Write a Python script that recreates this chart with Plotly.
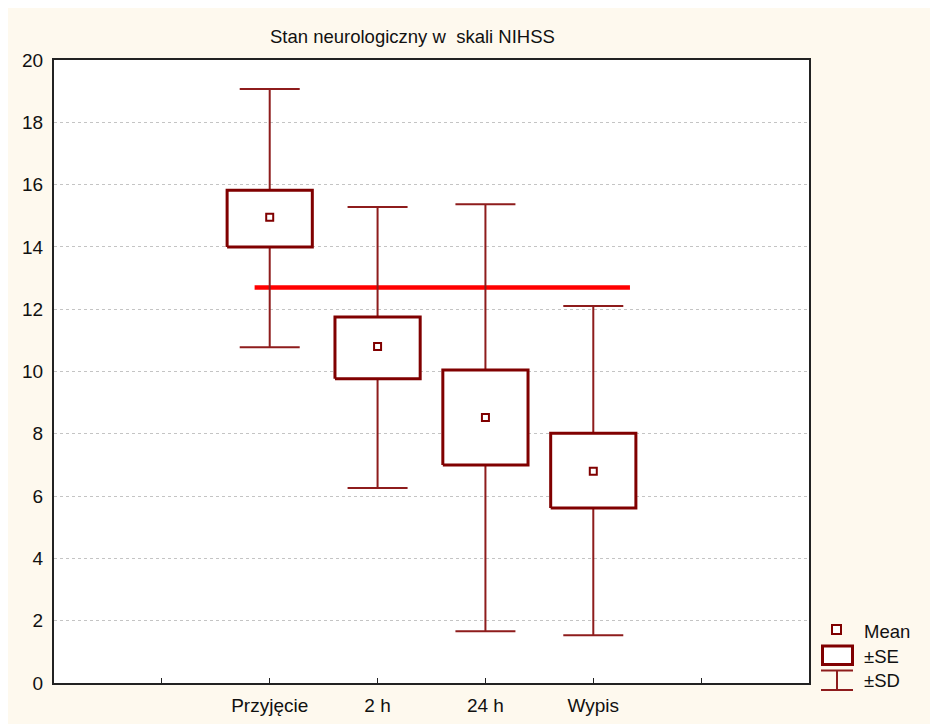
import plotly.graph_objects as go

# ---- data ----
categories = ["Przyjęcie", "2 h", "24 h", "Wypis"]
cat_pos = [2, 3, 4, 5]
means = [14.95, 10.8, 8.52, 6.8]
se_low = [14.0, 9.77, 7.0, 5.62]
se_high = [15.82, 11.75, 10.05, 8.02]
sd_low = [10.78, 6.26, 1.66, 1.53]
sd_high = [19.07, 15.28, 15.37, 12.1]
ref_line_x = [1.86, 5.34]
ref_line_y = [12.7, 12.7]
tick_vals = [1, 2, 3, 4, 5, 6]
tick_text = ["", "Przyjęcie", "2 h", "24 h", "Wypis", ""]
title_text = "Stan neurologiczny w  skali NIHSS"

# ---- style ----
DARK = "#800000"
WHISK = "#8E1C1C"
CREAM = "#FEF9EE"
FONT = "Liberation Sans, Arial, sans-serif"
OFF = 8  # page body margin
W, H = 938 - OFF, 724 - OFF
L, R, T, B = 54 - OFF, 809 - OFF, 60 - OFF, 683 - OFF
BOX_HALF = 0.395

def px(xp):
    # xp: screenshot pixel
    return (xp - OFF - L) / (R - L)

def py(yp):
    return (B - (yp - OFF)) / (B - T)

fig = go.Figure()

# reference line
fig.add_trace(go.Scatter(x=ref_line_x, y=ref_line_y, mode="lines",
                         line=dict(color="#FF0000", width=4.5),
                         hoverinfo="skip", showlegend=False))

# SD whiskers
fig.add_trace(go.Scatter(
    x=cat_pos, y=means, mode="markers",
    marker=dict(size=1, color="rgba(0,0,0,0)"),
    error_y=dict(type="data", symmetric=False,
                 array=[h - m for h, m in zip(sd_high, means)],
                 arrayminus=[m - l for m, l in zip(means, sd_low)],
                 color=WHISK, thickness=2, width=30),
    showlegend=False, hoverinfo="skip"))

# SE boxes
for xc, lo, hi in zip(cat_pos, se_low, se_high):
    fig.add_trace(go.Scatter(
        x=[xc - BOX_HALF, xc + BOX_HALF, xc + BOX_HALF, xc - BOX_HALF, xc - BOX_HALF],
        y=[lo, lo, hi, hi, lo], mode="lines", fill="toself",
        fillcolor="white", line=dict(color=DARK, width=3),
        showlegend=False, hoverinfo="skip"))

# mean markers
fig.add_trace(go.Scatter(
    x=cat_pos, y=means, mode="markers",
    marker=dict(symbol="square", size=7, color="white",
                line=dict(color=DARK, width=2)),
    showlegend=False))

shapes = [
    # legend symbols
    dict(type="rect", xref="paper", yref="paper", x0=px(832), x1=px(841), y0=py(634), y1=py(625),
         fillcolor="white", line=dict(color=DARK, width=2)),
    dict(type="rect", xref="paper", yref="paper", x0=px(822.5), x1=px(852.5), y0=py(664.5), y1=py(646),
         fillcolor="white", line=dict(color=DARK, width=3)),
    dict(type="line", xref="paper", yref="paper", x0=px(821), x1=px(853), y0=py(670.5), y1=py(670.5),
         line=dict(color=WHISK, width=2)),
    dict(type="line", xref="paper", yref="paper", x0=px(821), x1=px(853), y0=py(690), y1=py(690),
         line=dict(color=WHISK, width=2)),
    dict(type="line", xref="paper", yref="paper", x0=px(837), x1=px(837), y0=py(670.5), y1=py(690),
         line=dict(color=WHISK, width=2)),
]

annotations = [
    dict(text=title_text, xref="paper", yref="paper", x=px(412.5), y=py(37),
         xanchor="center", yanchor="middle", showarrow=False,
         font=dict(family=FONT, size=18.5, color="#111111")),
]
for label, yc in [("Mean", 631.5), ("±SE", 656.5), ("±SD", 680.5)]:
    annotations.append(dict(text=label, xref="paper", yref="paper", x=px(862), y=py(yc),
                            xanchor="left", yanchor="middle", showarrow=False,
                            font=dict(family=FONT, size=18.5, color="#111111")))

fig.update_layout(
    width=W, height=H,
    margin=dict(l=L, r=W - R, t=T, b=H - B, pad=0, autoexpand=False),
    paper_bgcolor=CREAM, plot_bgcolor="white",
    font=dict(family=FONT, size=19, color="#111111"),
    shapes=shapes, annotations=annotations, showlegend=False,
    xaxis=dict(range=[0, 7], tickmode="array", tickvals=tick_vals, ticktext=tick_text,
               showgrid=False, zeroline=False, showline=True, linecolor="#222222",
               linewidth=2, mirror=True, ticks="inside", ticklen=5, tickwidth=1,
               tickcolor="#222222", ticklabelstandoff=4, automargin=False),
    yaxis=dict(range=[0, 20], tickmode="array", tickvals=list(range(0, 21, 2)),
               showgrid=True, gridcolor="#C4C4C4", griddash="dot", gridwidth=1,
               zeroline=False, showline=True, linecolor="#222222", linewidth=2,
               mirror=True, ticks="", ticklabelstandoff=5, automargin=False),
)

fig.write_html("out.html")
